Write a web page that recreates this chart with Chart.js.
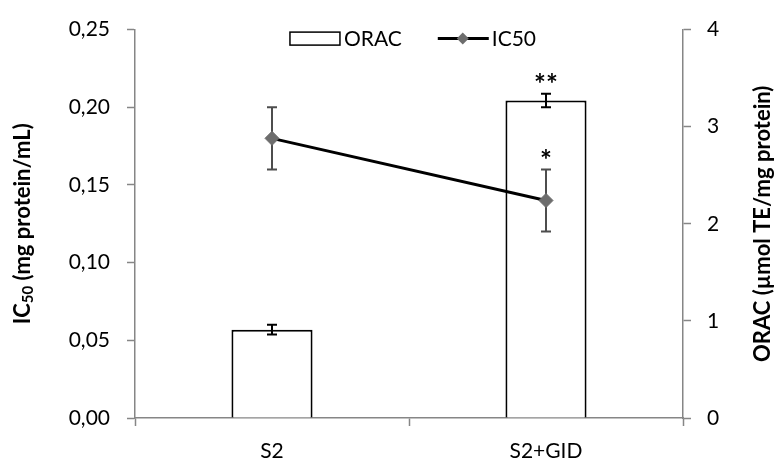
<!DOCTYPE html>
<html lang="en">
<head>
    <meta charset="UTF-8">
    <title>ORAC and IC50</title>
    <script src="https://cdn.jsdelivr.net/npm/chart.js@4.4.1/dist/chart.umd.min.js"></script>
    <style>
        body {
            margin: 0;
            background-color: white;
        }
        .container {
            position: relative;
            width: 775px;
            height: 468px;
        }
    </style>
</head>
<body>
    <div class="container">
        <canvas id="chart"></canvas>
    </div>

    <script>
        // Data
        const categories = ['S2', 'S2+GID'];
        const oracValues = [0.91, 3.27];   // right axis, µmol TE/mg protein
        const oracErrors = [0.05, 0.07];
        const oracMarks = ['', '**'];
        const ic50Values = [0.18, 0.14];   // left axis, mg protein/mL
        const ic50Errors = [0.02, 0.02];
        const ic50Marks = ['', '*'];
        const leftTicks = [0, 0.05, 0.10, 0.15, 0.20, 0.25];
        const rightTicks = [0, 1, 2, 3, 4];

        const axisColor = '#868686';
        const textColor = '#000';
        const fontFamily = 'Lato, "Open Sans", sans-serif';

        // error bars, asterisks, legend and axis titles
        const extrasPlugin = {
            id: 'extras',
            beforeDatasetDraw(chart, args) {
                if (args.index !== 1) return;
                const ctx = chart.ctx;
                const x = chart.scales.x;
                ctx.save();
                drawErrors(ctx, x, chart.scales.y1, oracValues, oracErrors, '#000', 2);
                drawErrors(ctx, x, chart.scales.y, ic50Values, ic50Errors, '#4d4d4d', 2);
                ctx.restore();
            },
            afterDraw(chart) {
                const ctx = chart.ctx;
                const area = chart.chartArea;
                const x = chart.scales.x;
                ctx.save();

                // significance marks
                ctx.fillStyle = '#000';
                ctx.font = 'bold 28px ' + fontFamily;
                ctx.textAlign = 'center';
                ctx.textBaseline = 'alphabetic';
                categories.forEach((c, i) => {
                    const px = x.getPixelForValue(i);
                    if (oracMarks[i]) {
                        const top = chart.scales.y1.getPixelForValue(oracValues[i] + oracErrors[i]);
                        ctx.fillText(oracMarks[i], px, top);
                    }
                    if (ic50Marks[i]) {
                        const top = chart.scales.y.getPixelForValue(ic50Values[i] + ic50Errors[i]);
                        ctx.fillText(ic50Marks[i], px, top + 1);
                    }
                });

                // legend
                const ds = chart.data.datasets;
                ctx.font = '21px ' + fontFamily;
                ctx.textAlign = 'left';
                ctx.textBaseline = 'middle';
                const w1 = ctx.measureText(ds[0].label).width;
                const w2 = ctx.measureText(ds[1].label).width;
                const total = 50 + 4 + w1 + 36 + 51 + 3 + w2;
                let lx = (area.left + area.right) / 2 - total / 2 + 4;
                const ly = area.top + 9;
                ctx.fillStyle = 'white';
                ctx.strokeStyle = '#000';
                ctx.lineWidth = 1.5;
                ctx.fillRect(lx, ly - 6.5, 50, 13);
                ctx.strokeRect(lx, ly - 6.5, 50, 13);
                lx += 54;
                ctx.fillStyle = textColor;
                ctx.fillText(ds[0].label, lx, ly + 1);
                lx += w1 + 36;
                ctx.beginPath();
                ctx.lineWidth = 3;
                ctx.moveTo(lx, ly);
                ctx.lineTo(lx + 51, ly);
                ctx.stroke();
                ctx.fillStyle = '#6d6d6d';
                ctx.beginPath();
                ctx.moveTo(lx + 25, ly - 6);
                ctx.lineTo(lx + 31, ly);
                ctx.lineTo(lx + 25, ly + 6);
                ctx.lineTo(lx + 19, ly);
                ctx.closePath();
                ctx.fill();
                lx += 54;
                ctx.fillStyle = textColor;
                ctx.fillText(ds[1].label, lx, ly + 1);

                // left axis title with subscript
                const cy = (area.top + area.bottom) / 2;
                ctx.save();
                ctx.translate(23, cy);
                ctx.rotate(-Math.PI / 2);
                const big = 'bold 22px ' + fontFamily;
                const small = 'bold 15px ' + fontFamily;
                ctx.font = big;
                const a = ctx.measureText('IC').width;
                const c = ctx.measureText(' (mg protein/mL)').width;
                ctx.font = small;
                const b = ctx.measureText('50').width;
                let tx = -(a + b + c) / 2;
                ctx.fillStyle = textColor;
                ctx.font = big;
                ctx.fillText('IC', tx, 0);
                tx += a;
                ctx.font = small;
                ctx.fillText('50', tx, 5);
                tx += b;
                ctx.font = big;
                ctx.fillText(' (mg protein/mL)', tx, 0);
                ctx.restore();

                // right axis title
                ctx.save();
                ctx.translate(763, cy);
                ctx.rotate(-Math.PI / 2);
                ctx.font = 'bold 22px ' + fontFamily;
                ctx.textAlign = 'center';
                ctx.fillStyle = textColor;
                ctx.fillText('ORAC (µmol TE/mg protein)', 0, 0);
                ctx.restore();

                ctx.restore();
            }
        };

        function drawErrors(ctx, xScale, yScale, values, errors, color, width) {
            ctx.strokeStyle = color;
            ctx.lineWidth = width;
            values.forEach((v, i) => {
                const px = xScale.getPixelForValue(i);
                const hi = yScale.getPixelForValue(v + errors[i]);
                const lo = yScale.getPixelForValue(v - errors[i]);
                ctx.beginPath();
                ctx.moveTo(px, hi);
                ctx.lineTo(px, lo);
                ctx.moveTo(px - 5, hi);
                ctx.lineTo(px + 5, hi);
                ctx.moveTo(px - 5, lo);
                ctx.lineTo(px + 5, lo);
                ctx.stroke();
            });
        }

        function yAxis(position, min, max, ticks, width, pad, fmt) {
            return {
                position: position,
                min: min,
                max: max,
                afterBuildTicks: s => { s.ticks = ticks.map(v => ({ value: v })); },
                afterFit: s => { s.width = width; },
                grid: { drawOnChartArea: false, tickLength: 8, color: axisColor, tickWidth: 1.5 },
                border: { color: axisColor, width: 1.5 },
                ticks: {
                    padding: pad,
                    color: textColor,
                    font: { family: fontFamily, size: 21 },
                    callback: fmt
                }
            };
        }

        new Chart(document.getElementById('chart'), {
            data: {
                labels: categories,
                datasets: [
                    {
                        type: 'bar',
                        label: 'ORAC',
                        data: oracValues,
                        yAxisID: 'y1',
                        backgroundColor: 'white',
                        borderColor: '#000',
                        borderWidth: 2,
                        categoryPercentage: 1,
                        barPercentage: 0.296,
                        order: 2
                    },
                    {
                        type: 'line',
                        label: 'IC50',
                        data: ic50Values,
                        yAxisID: 'y',
                        borderColor: '#000',
                        borderWidth: 3,
                        pointStyle: 'rectRot',
                        pointRadius: 7,
                        pointBackgroundColor: '#6d6d6d',
                        pointBorderColor: '#6d6d6d',
                        pointBorderWidth: 1,
                        order: 1
                    }
                ]
            },
            options: {
                responsive: true,
                maintainAspectRatio: false,
                animation: false,
                layout: { padding: { top: 24, left: 0, right: 0, bottom: 0 } },
                plugins: {
                    legend: { display: false },
                    tooltip: { enabled: false }
                },
                scales: {
                    x: {
                        offset: true,
                        afterFit: s => { s.height = 50; },
                        grid: { offset: true, drawOnChartArea: false, tickLength: 8, color: axisColor, tickWidth: 1.5 },
                        border: { color: axisColor, width: 1.5 },
                        ticks: {
                            padding: 13,
                            color: textColor,
                            font: { family: fontFamily, size: 21 }
                        }
                    },
                    y: yAxis('left', 0, 0.25, leftTicks, 135, 17, v => v.toFixed(2).replace('.', ',')),
                    y1: yAxis('right', 0, 4, rightTicks, 92, 16, v => String(v))
                }
            },
            plugins: [extrasPlugin]
        });
    </script>
</body>
</html>
